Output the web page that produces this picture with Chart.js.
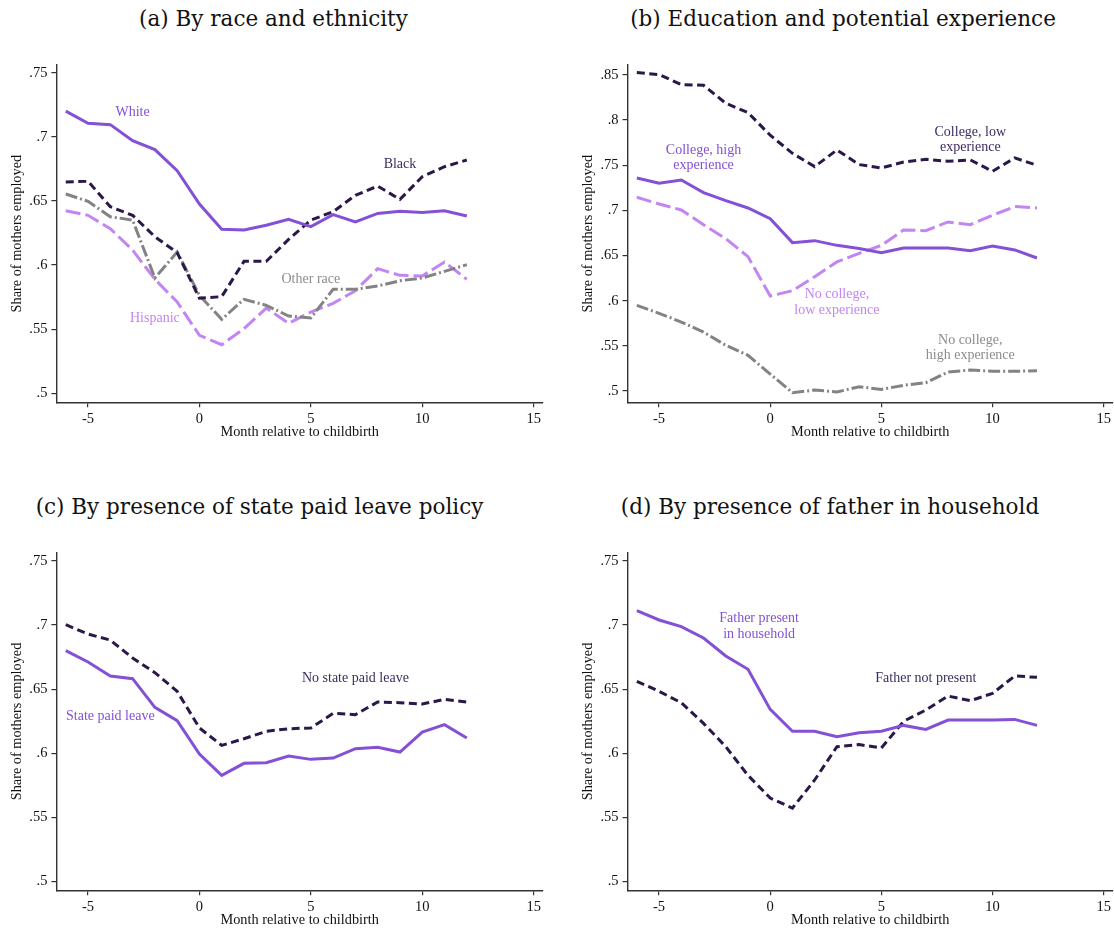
<!DOCTYPE html>
<html>
<head>
<meta charset="utf-8">
<script src="https://cdn.jsdelivr.net/npm/chart.js@4/dist/chart.umd.min.js"></script>
<style>
  html, body { margin: 0; padding: 0; background: #fff; }
  #wrap { position: relative; width: 1114px; height: 932px; overflow: hidden; background: #fff; }
  canvas { position: absolute; }
  .ttl { position: absolute; width: 600px; text-align: center; font-family: "DejaVu Serif", serif;
         font-size: 21.5px; line-height: 1; color: #111; white-space: nowrap; }
</style>
</head>
<body>
<div id="wrap">
  <div class="ttl" style="left:-26.5px; top:7.8px;">(a) By race and ethnicity</div>
  <div class="ttl" style="left:543px; top:7.8px;">(b) Education and potential experience</div>
  <div class="ttl" style="left:-40.5px; top:495.8px;">(c) By presence of state paid leave policy</div>
  <div class="ttl" style="left:530px; top:495.8px;">(d) By presence of father in household</div>
  <canvas id="pa" width="557" height="466" style="left:0; top:0;"></canvas>
  <canvas id="pb" width="557" height="466" style="left:557px; top:0;"></canvas>
  <canvas id="pc" width="557" height="466" style="left:0; top:466px;"></canvas>
  <canvas id="pd" width="557" height="466" style="left:557px; top:466px;"></canvas>
</div>
<script>
// Months relative to childbirth
const months = [-6, -5, -4, -3, -2, -1, 0, 1, 2, 3, 4, 5, 6, 7, 8, 9, 10, 11, 12];

// Axis ticks
const xTicks = [-5, 0, 5, 10, 15];
const yTicksLow = [0.5, 0.55, 0.6, 0.65, 0.7, 0.75];
const yTicksHigh = [0.5, 0.55, 0.6, 0.65, 0.7, 0.75, 0.8, 0.85];

// (a) Race and ethnicity
const white    = [0.720, 0.7105, 0.7095, 0.697, 0.690, 0.6736, 0.6476, 0.628, 0.6273, 0.631, 0.6357, 0.630, 0.6393, 0.6336, 0.6403, 0.6419, 0.6409, 0.6424, 0.6383];
const black    = [0.6648, 0.6653, 0.6455, 0.6388, 0.6221, 0.6097, 0.5741, 0.5754, 0.6029, 0.6029, 0.620, 0.6351, 0.6416, 0.6544, 0.6616, 0.6512, 0.6689, 0.6767, 0.6819];
const otherRace = [0.6554, 0.6497, 0.6377, 0.6351, 0.5899, 0.6102, 0.5764, 0.5577, 0.5733, 0.5686, 0.5603, 0.5587, 0.5811, 0.5811, 0.5837, 0.5878, 0.5899, 0.5951, 0.6003];
const hispanic = [0.6424, 0.6388, 0.6284, 0.6117, 0.5889, 0.5712, 0.5452, 0.5379, 0.5504, 0.5665, 0.5546, 0.5634, 0.5702, 0.580, 0.5972, 0.592, 0.5915, 0.6024, 0.5889];

// (b) Education and potential experience
const collegeLowExp   = [0.8526, 0.8504, 0.8393, 0.8386, 0.8186, 0.8083, 0.7832, 0.7632, 0.7485, 0.7669, 0.7507, 0.747, 0.7536, 0.7566, 0.7544, 0.7559, 0.7433, 0.7581, 0.750];
const collegeHighExp  = [0.7359, 0.730, 0.7337, 0.7197, 0.7108, 0.7027, 0.6909, 0.6643, 0.6665, 0.6613, 0.6577, 0.6532, 0.6584, 0.6584, 0.6584, 0.6554, 0.6606, 0.6562, 0.6473];
const noCollegeLowExp = [0.7145, 0.7071, 0.7005, 0.6842, 0.6687, 0.6488, 0.6052, 0.6111, 0.6266, 0.6429, 0.6525, 0.6613, 0.6783, 0.6776, 0.6872, 0.6842, 0.6946, 0.7042, 0.7027];
const noCollegeHighExp = [0.5949, 0.586, 0.5764, 0.5653, 0.5506, 0.5395, 0.5188, 0.4982, 0.5011, 0.4989, 0.5048, 0.5018, 0.5063, 0.5092, 0.521, 0.5233, 0.5218, 0.5218, 0.5225];

// (c) State paid leave policy
const noStateLeave = [0.7003, 0.693, 0.6883, 0.6743, 0.6629, 0.6483, 0.6197, 0.6061, 0.6113, 0.6171, 0.6191, 0.6197, 0.6311, 0.6301, 0.640, 0.6394, 0.6384, 0.642, 0.640];
const stateLeave   = [0.680, 0.6712, 0.6603, 0.6582, 0.6358, 0.6254, 0.5994, 0.5827, 0.5921, 0.5926, 0.5978, 0.5952, 0.5962, 0.6035, 0.6046, 0.6009, 0.6165, 0.6223, 0.6119];

// (d) Father in household
const fatherPresent    = [0.7112, 0.704, 0.6988, 0.6899, 0.6759, 0.6655, 0.6342, 0.6171, 0.6171, 0.6129, 0.616, 0.6171, 0.6217, 0.6186, 0.6259, 0.6259, 0.6259, 0.6264, 0.6217];
const fatherNotPresent = [0.6561, 0.6483, 0.6394, 0.6233, 0.6051, 0.5827, 0.565, 0.5572, 0.5791, 0.6051, 0.6067, 0.6041, 0.6249, 0.6337, 0.6446, 0.641, 0.6467, 0.6603, 0.6592];

// Colours and line patterns
const PURPLE = '#8450d6';
const DARK = '#2b1848';
const LIGHT = '#c285f2';
const GRAY = '#838383';
const STYLE = {
  solid:   { color: PURPLE, dash: [] },
  dashed:  { color: DARK,   dash: [8, 4.5] },
  long:    { color: LIGHT,  dash: [15, 5] },
  dashdot: { color: GRAY,   dash: [12, 3, 2, 3] }
};
const LABEL_DARK = '#3c2c5e';
const LABEL_GRAY = '#8c8c8c';

const SERIF = '"Liberation Serif", "Times New Roman", serif';
Chart.defaults.font.family = SERIF;

// Draws series labels at data coordinates
const seriesLabels = {
  id: 'seriesLabels',
  afterDatasetsDraw(chart, args, opts) {
    const { ctx } = chart;
    const xs = chart.scales.x, ys = chart.scales.y;
    ctx.save();
    ctx.font = '14px ' + SERIF;
    ctx.textAlign = 'center';
    ctx.textBaseline = 'middle';
    (opts.items || []).forEach(it => {
      const px = xs.getPixelForValue(it.x);
      const py = ys.getPixelForValue(it.y);
      ctx.fillStyle = it.color;
      it.text.forEach((line, i) => {
        ctx.fillText(line, px, py + (i - (it.text.length - 1) / 2) * 15.4);
      });
    });
    ctx.restore();
  }
};

function line(data, style) {
  const s = STYLE[style];
  return {
    data: months.map((m, i) => ({ x: m, y: data[i] })),
    borderColor: s.color,
    borderDash: s.dash,
    borderWidth: 3,
    borderCapStyle: 'butt',
    borderJoinStyle: 'miter',
    pointRadius: 0,
    tension: 0,
    fill: false
  };
}

function fmtY(v) {
  return String(+Number(v).toFixed(2)).replace(/^0\./, '.');
}

function panel(id, datasets, yMin, yMax, yTicks, labels, pad) {
  new Chart(document.getElementById(id), {
    type: 'line',
    data: { datasets },
    options: {
      responsive: false,
      animation: false,
      devicePixelRatio: 1,
      layout: { padding: pad },
      plugins: {
        legend: { display: false },
        tooltip: { enabled: false },
        seriesLabels: { items: labels }
      },
      scales: {
        x: {
          type: 'linear',
          min: -6.42,
          max: 15.42,
          afterBuildTicks: s => { s.ticks = xTicks.map(v => ({ value: v })); },
          afterFit: s => { s.height = 40; },
          grid: { drawOnChartArea: false, drawTicks: true, tickLength: 5, color: '#333', lineWidth: 1.2 },
          border: { display: true, color: '#333', width: 1.4 },
          ticks: {
            autoSkip: false, maxRotation: 0, padding: 3, color: '#111',
            font: { family: SERIF, size: 14.5 },
            callback: v => (v < 0 ? '-' + Math.abs(v) : String(v))
          },
          title: {
            display: true, text: 'Month relative to childbirth', color: '#111',
            font: { family: SERIF, size: 14.3 }, padding: { top: 0, bottom: 1 }
          }
        },
        y: {
          type: 'linear',
          min: yMin,
          max: yMax,
          afterBuildTicks: s => { s.ticks = yTicks.map(v => ({ value: v })); },
          afterFit: s => { s.width = 56.4; },
          grid: { drawOnChartArea: false, drawTicks: true, tickLength: 5, color: '#333', lineWidth: 1.2 },
          border: { display: true, color: '#333', width: 1.4 },
          ticks: {
            autoSkip: false, padding: 4, color: '#111',
            font: { family: SERIF, size: 14.5 },
            callback: v => fmtY(v)
          },
          title: {
            display: true, text: 'Share of mothers employed', color: '#111',
            font: { family: SERIF, size: 14.3 }, padding: { top: 8.2, bottom: 0 }
          }
        }
      }
    },
    plugins: [seriesLabels]
  });
}

const padTopRowLeft  = { left: 0,    top: 65,   right: 14, bottom: 23.7 };
const padTopRowRight = { left: 14.1, top: 65,   right: 1,  bottom: 23.7 };
const padBotRowLeft  = { left: 0,    top: 86.7, right: 14, bottom: 1.7 };
const padBotRowRight = { left: 14.1, top: 86.7, right: 1,  bottom: 1.7 };

panel('pa', [
  line(white, 'solid'),
  line(black, 'dashed'),
  line(otherRace, 'dashdot'),
  line(hispanic, 'long')
], 0.493, 0.756, yTicksLow, [
  { text: ['White'], x: -3, y: 0.719, color: PURPLE },
  { text: ['Black'], x: 9, y: 0.6786, color: LABEL_DARK },
  { text: ['Other race'], x: 5, y: 0.5889, color: LABEL_GRAY },
  { text: ['Hispanic'], x: -2, y: 0.5585, color: LIGHT }
], padTopRowLeft);

panel('pb', [
  line(collegeLowExp, 'dashed'),
  line(collegeHighExp, 'solid'),
  line(noCollegeLowExp, 'long'),
  line(noCollegeHighExp, 'dashdot')
], 0.4875, 0.861, yTicksHigh, [
  { text: ['College, low', 'experience'], x: 9, y: 0.778, color: LABEL_DARK },
  { text: ['College, high', 'experience'], x: -3, y: 0.758, color: PURPLE },
  { text: ['No college,', 'low experience'], x: 3, y: 0.598, color: LIGHT },
  { text: ['No college,', 'high experience'], x: 9, y: 0.548, color: LABEL_GRAY }
], padTopRowRight);

panel('pc', [
  line(noStateLeave, 'dashed'),
  line(stateLeave, 'solid')
], 0.493, 0.7565, yTicksLow, [
  { text: ['No state paid leave'], x: 7, y: 0.6584, color: LABEL_DARK },
  { text: ['State paid leave'], x: -4, y: 0.629, color: PURPLE }
], padBotRowLeft);

panel('pd', [
  line(fatherPresent, 'solid'),
  line(fatherNotPresent, 'dashed')
], 0.493, 0.7565, yTicksLow, [
  { text: ['Father present', 'in household'], x: -0.5, y: 0.699, color: PURPLE },
  { text: ['Father not present'], x: 7, y: 0.6584, color: LABEL_DARK }
], padBotRowRight);
</script>
</body>
</html>
